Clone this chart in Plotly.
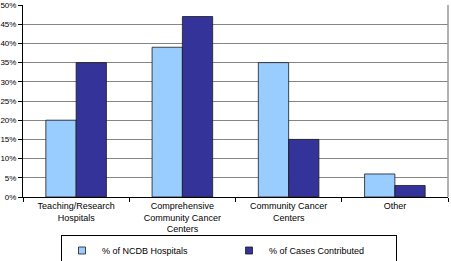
import plotly.graph_objects as go

categories = ["Teaching/Research<br>Hospitals",
              "Comprehensive<br>Community Cancer<br>Centers",
              "Community Cancer<br>Centers",
              "Other"]
pct_hospitals = [20, 39, 35, 6]
pct_cases = [35, 47, 15, 3]

light = "#99CCFF"
dark = "#333399"
font_family = "Liberation Sans"

fig = go.Figure()

fig.add_trace(go.Bar(
    x=categories, y=pct_hospitals, name="% of NCDB Hospitals",
    marker=dict(color=light, line=dict(color="#1a1a1a", width=0.8)),
    showlegend=False
))
fig.add_trace(go.Bar(
    x=categories, y=pct_cases, name="% of Cases Contributed",
    marker=dict(color=dark, line=dict(color="#1a1a1a", width=0.8)),
    showlegend=False
))

# small square legend markers
for name, col in [("% of NCDB Hospitals", light), ("% of Cases Contributed", dark)]:
    fig.add_trace(go.Scatter(
        x=[None], y=[None], mode="markers", name=name,
        marker=dict(symbol="square", size=7, color=col, line=dict(color="#1a1a1a", width=0.8))
    ))

fig.update_layout(
    width=451, height=261,
    margin=dict(l=23, r=3, t=5, b=64),
    barmode="group", bargap=0.43, bargroupgap=0,
    plot_bgcolor="white", paper_bgcolor="white",
    font=dict(family=font_family, size=8, color="#000000"),
    showlegend=True,
    legend=dict(
        orientation="h", xref="container", yref="container",
        x=61 / 451, xanchor="left", y=1 - 235 / 261, yanchor="top",
        bordercolor="#000000", borderwidth=1, font=dict(size=9),
        entrywidth=122, itemwidth=30
    ),
    xaxis=dict(
        automargin=False,
        showline=True, linecolor="#000000", linewidth=1,
        ticks="outside", tickson="boundaries", ticklen=4, tickcolor="#000000",
        tickfont=dict(size=9), showgrid=False
    ),
    yaxis=dict(
        automargin=False,
        range=[0, 50], dtick=5, ticksuffix="%",
        showline=True, linecolor="#000000", linewidth=1,
        ticks="outside", ticklen=4, tickcolor="#000000",
        showgrid=True, gridcolor="#858585", gridwidth=1, zeroline=False
    ),
    shapes=[dict(type="line", xref="paper", yref="paper", x0=1, x1=1, y0=0, y1=1,
                 line=dict(color="#999999", width=1.5))]
)

# page has a default 8px body margin; drop it so the figure sits at the corner
fig.write_html("out.html", config={"displayModeBar": False},
               post_script="document.body.style.margin='0';")
